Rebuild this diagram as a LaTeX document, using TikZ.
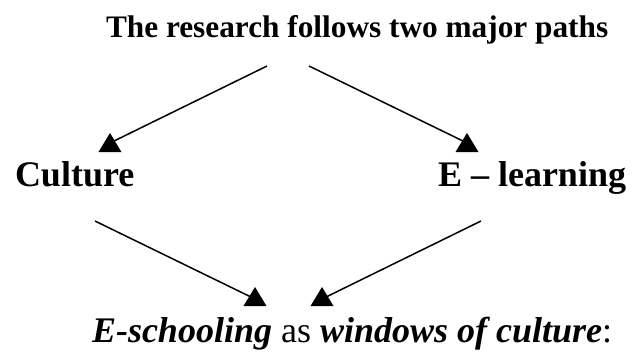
\documentclass[tikz,border=0pt]{standalone}
\usepackage{fontspec}
\setmainfont{Liberation Serif}
\begin{document}
\begin{tikzpicture}[x=1pt,y=-1pt,
  lbl/.style={inner sep=0pt,outer sep=0pt,anchor=base west,font=\fontsize{36}{40}\selectfont\bfseries},
  ttl/.style={inner sep=0pt,outer sep=0pt,anchor=base west,font=\fontsize{31.3}{36}\selectfont\bfseries},
  conn/.style={line width=1.5pt},
  uptri/.pic={\fill (0,0) -- (-11.5,19) -- (11.5,19) -- cycle;}]
\useasboundingbox (0,0) rectangle (634,354);
\node[ttl] (title) at (106,37) {The research follows two major paths};
\node[lbl] (culture) at (15,186) {Culture};
\node[lbl] (elearn) at (438,186) {E -- learning};
\node[lbl] (eschool) at (92,342) {\bfseries\itshape E-schooling\/ \upshape\mdseries as \bfseries\itshape windows of culture\/\upshape\mdseries:};
% connector endpoints
\coordinate (t1) at (267,66);
\coordinate (t2) at (309,66);
\coordinate (e1) at (112,142);
\coordinate (e2) at (465,142);
\coordinate (a1) at (110,133);
\coordinate (a2) at (467,133);
\coordinate (c1) at (95,221);
\coordinate (c2) at (481,221);
\coordinate (f1) at (253,298);
\coordinate (f2) at (324,298);
\coordinate (b1) at (255,287);
\coordinate (b2) at (322,287);
\draw[conn] (t1) -- (e1);
\draw[conn] (t2) -- (e2);
\draw[conn] (c1) -- (f1);
\draw[conn] (c2) -- (f2);
\pic at (a1) {uptri};
\pic at (a2) {uptri};
\pic at (b1) {uptri};
\pic at (b2) {uptri};
\end{tikzpicture}
\end{document}
